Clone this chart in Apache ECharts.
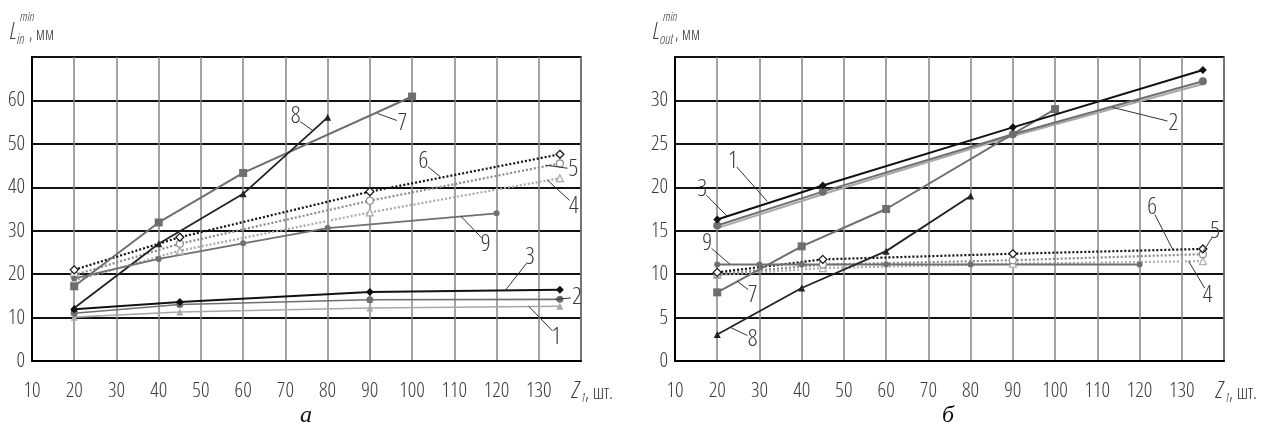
<!DOCTYPE html>
<html><head><meta charset="utf-8">
<script src="https://cdn.jsdelivr.net/npm/echarts@6/dist/echarts.min.js"></script>
<style>html,body{margin:0;padding:0;background:#fff}#c{width:1265px;height:432px}</style>
</head><body><div id="c"></div>
<script>
// ---------- DATA ----------
const xTicks = [10,20,30,40,50,60,70,80,90,100,110,120,130,140];
// chart a (L_in^min)
const a1 = [[20,10.1],[45,11.3],[90,12.2],[135,12.6]];
const a2 = [[20,11.0],[45,13.0],[90,14.1],[135,14.2]];
const a3 = [[20,11.9],[45,13.6],[90,15.9],[135,16.4]];
const a4 = [[20,18.5],[45,25.4],[90,34.2],[135,42.1]];
const a5 = [[20,19.8],[45,27.0],[90,36.9],[135,45.5]];
const a6 = [[20,21.0],[45,28.5],[90,39.0],[135,47.6]];
const a7 = [[20,17.2],[40,31.9],[60,43.3],[100,60.9]];
const a8 = [[20,12.2],[40,27.0],[60,38.5],[80,56.1]];
const a9 = [[20,19.0],[40,23.5],[60,27.1],[80,30.6],[120,34.0]];
// chart б (L_out^min)
const b1 = [[20,16.3],[45,20.2],[90,26.9],[135,33.5]];
const b2 = [[20,15.6],[45,19.5],[90,26.1],[135,32.2]];
const b3 = [[20,15.3],[45,19.2],[90,25.9],[135,31.9]];
const b4 = [[20,9.9],[45,10.7],[90,11.2],[135,11.5]];
const b5 = [[20,10.0],[45,11.1],[90,11.6],[135,12.3]];
const b6 = [[20,10.2],[45,11.7],[90,12.35],[135,12.9]];
const b7 = [[20,7.9],[40,13.2],[60,17.5],[100,29.0]];
const b8 = [[20,3.06],[40,8.4],[60,12.65],[80,19.0]];
const b9 = [[20,11.1],[30,11.1],[40,11.1],[60,11.1],[80,11.1],[120,11.1]];
// curve labels: [labelX, labelY, anchorX, anchorY, text] in data units
const aLabels = [
  [72.4,56.3,76.6,53.0,'8'],[97.7,54.7,91.8,57.0,'7'],[102.7,46.0,106.7,42.4,'6'],
  [138.2,44.1,131.6,45.1,'5'],[138.3,35.7,132.0,41.7,'4'],[117.4,27.0,111.5,33.4,'9'],
  [127.9,23.9,122.1,16.3,'3'],[139.0,14.7,133.8,14.2,'2'],[134.2,5.6,127.6,12.6,'1']
];
const bLabels = [
  [23.7,23.05,31.8,18.4,'1'],[16.4,19.8,22.3,16.7,'3'],[128.0,27.4,113.6,29.2,'2'],
  [17.6,13.6,23.0,11.15,'9'],[28.4,7.6,24.7,9.2,'7'],[28.4,2.5,23.0,3.9,'8'],
  [123.0,17.7,128.0,12.7,'6'],[137.9,15.0,134.9,12.5,'5'],[136.1,7.6,131.6,11.5,'4']
];
const captions = ['а','б'];

// ---------- STYLE ----------
const NF = "'Open Sans'";
const TXT = '#3b3b3b';
function mkX(gi){return {type:'value',gridIndex:gi,min:10,max:140,interval:10,
  axisLine:{show:true,lineStyle:{color:'#000',width:2}},axisTick:{show:false},
  axisLabel:{showMaxLabel:false,color:TXT,fontFamily:NF,fontStyle:'condensed',fontWeight:300,fontSize:21,margin:20},
  splitLine:{show:true,lineStyle:{color:'#858585',width:1.5}}};}
function mkY(gi,max,iv){return {type:'value',gridIndex:gi,min:0,max:max,interval:iv,
  axisLine:{show:true,lineStyle:{color:'#000',width:2}},axisTick:{show:false},
  axisLabel:{showMaxLabel:false,color:TXT,fontFamily:NF,fontStyle:'condensed',fontWeight:300,fontSize:21,margin:7},
  splitLine:{show:true,lineStyle:{color:'#111',width:1.8}}};}
function ln(data,gi,color,width,symbol,opts){
  opts=opts||{};
  return {type:'line',xAxisIndex:gi,yAxisIndex:gi,data:data,symbol:symbol,
    symbolSize:opts.size||7,showSymbol:true,z:opts.z||3,
    lineStyle:{color:color,width:width,type:opts.dash||'solid'},
    itemStyle:opts.hollow?{color:'#fff',borderColor:color,borderWidth:1.2}:{color:color},
    emphasis:{disabled:true},animation:false};
}
function labelSeries(list,gi){
  return {type:'custom',xAxisIndex:gi,yAxisIndex:gi,data:list,z:10,animation:false,silent:true,
    renderItem:function(params,api){
      const L=api.coord([api.value(0),api.value(1)]);
      const A=api.coord([api.value(2),api.value(3)]);
      const dx=A[0]-L[0],dy=A[1]-L[1],d=Math.sqrt(dx*dx+dy*dy)||1;
      const s=[L[0]+dx/d*6,L[1]+dy/d*8];
      return {type:'group',children:[
        {type:'line',shape:{x1:s[0],y1:s[1],x2:A[0],y2:A[1]},style:{stroke:'#333',lineWidth:1}},
        {type:'text',x:L[0],y:L[1],style:{text:list[params.dataIndex][4],fill:TXT,
          font:"condensed 300 24px "+NF,align:'center',verticalAlign:'middle'}}
      ]};
    }};
}
const DOT=[2,2];
const series=[
  ln(a1,0,'#a8a8a8',1.6,'triangle'),
  ln(a2,0,'#6f6f6f',1.6,'circle'),
  ln(a3,0,'#111',2,'diamond',{z:4,size:8}),
  ln(a4,0,'#a8a8a8',2.2,'triangle',{dash:DOT,hollow:true}),
  ln(a5,0,'#8a8a8a',2.2,'circle',{dash:DOT,hollow:true}),
  ln(a6,0,'#111',2.2,'diamond',{dash:DOT,hollow:true,size:8}),
  ln(a7,0,'#6e6e6e',2,'rect',{size:8}),
  ln(a8,0,'#222',1.8,'triangle'),
  ln(a9,0,'#707070',1.8,'circle',{size:6}),
  labelSeries(aLabels,0),
  ln(b3,1,'#a8a8a8',2,'none'),
  ln(b2,1,'#6f6f6f',2,'circle',{size:8}),
  ln(b1,1,'#111',2,'diamond',{z:4,size:8}),
  ln(b4,1,'#b0b0b0',2.2,'triangle',{dash:DOT,hollow:true}),
  ln(b5,1,'#8a8a8a',2.2,'circle',{dash:DOT,hollow:true}),
  ln(b6,1,'#111',2.2,'diamond',{dash:DOT,hollow:true,size:8}),
  ln(b9,1,'#6f6f6f',2,'circle',{size:6}),
  ln(b7,1,'#6e6e6e',2,'rect',{size:8}),
  ln(b8,1,'#222',1.8,'triangle'),
  labelSeries(bLabels,1)
];
function yTitle(x,sub){
  return {type:'group',left:x,top:11,children:[
    {type:'text',x:0,y:12,style:{text:'L',font:"italic condensed 300 23px "+NF,fill:TXT}},
    {type:'text',x:10,y:2,style:{text:'min',font:"italic condensed 300 13px "+NF,fill:TXT}},
    {type:'text',x:7,y:24,style:{text:sub,font:"italic condensed 300 14px "+NF,fill:TXT}},
    {type:'text',x:sub==='in'?19:22,y:17,style:{text:', мм',font:"condensed 300 18px "+NF,fill:TXT}}
  ]};
}
function xTitle(x){
  return {type:'group',left:x,top:380,children:[
    {type:'text',x:0,y:0,style:{text:'Z',font:"italic condensed 300 23px "+NF,fill:TXT}},
    {type:'text',x:9,y:12,style:{text:'1',font:"italic condensed 300 13px "+NF,fill:TXT}},
    {type:'text',x:13,y:3,style:{text:', шт.',font:"condensed 300 20px "+NF,fill:TXT}}
  ]};
}
const chart=echarts.init(document.getElementById('c'),null,{renderer:'canvas'});
chart.setOption({
  animation:false,backgroundColor:'#fff',
  grid:[{left:32,top:57,width:549,height:304,show:true,borderColor:'#111',borderWidth:1.5,backgroundColor:'transparent'},
        {left:675,top:57,width:549,height:304,show:true,borderColor:'#111',borderWidth:1.5,backgroundColor:'transparent'}],
  xAxis:[mkX(0),mkX(1)],
  yAxis:[mkY(0,70,10),mkY(1,35,5)],
  series:series,
  graphic:[yTitle(10,'in'),yTitle(653,'out'),xTitle(572),xTitle(1216),
    {type:'text',left:300,top:404,style:{text:captions[0],font:"italic 24px 'Liberation Serif',serif",fill:'#111'}},
    {type:'text',left:942,top:404,style:{text:captions[1],font:"italic 24px 'Liberation Serif',serif",fill:'#111'}}]
});
</script></body></html>
